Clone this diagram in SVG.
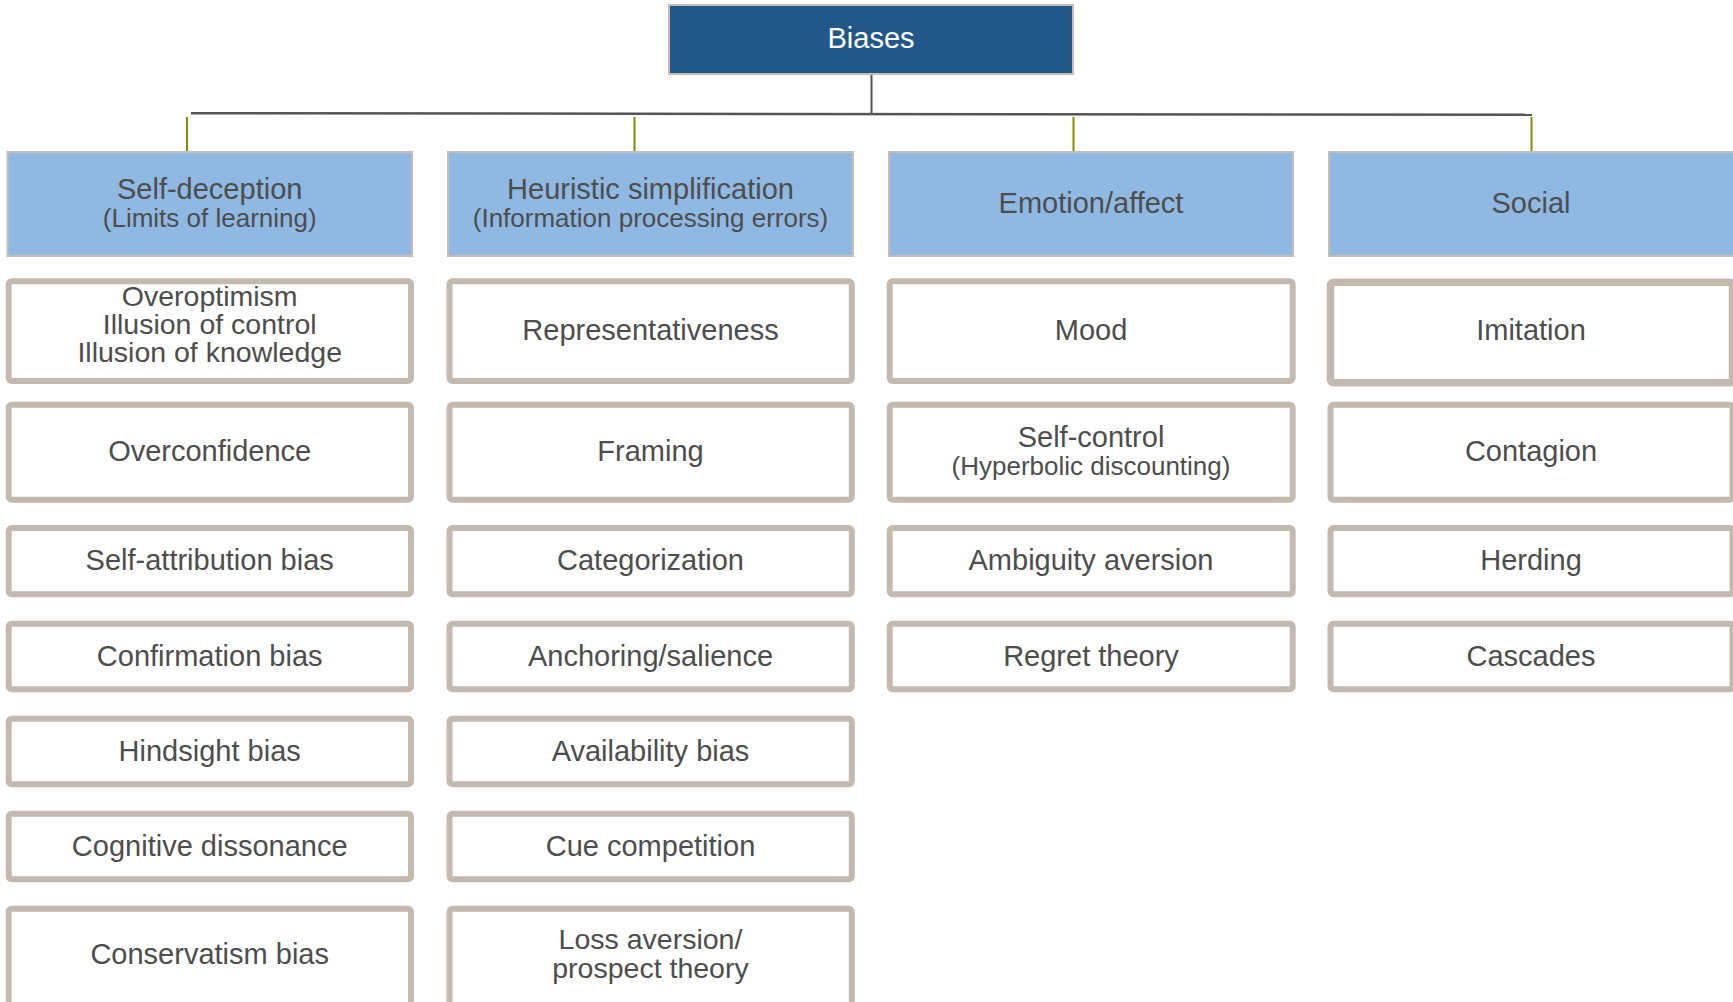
<svg xmlns="http://www.w3.org/2000/svg" width="1733" height="1002" viewBox="0 0 1733 1002">
<style>
text{font-family:"Liberation Sans",Arial,sans-serif;font-size:29px;fill:#4D4D4D;text-anchor:middle}
.sub{font-size:26px}
.tight{font-size:28.5px}
.root rect{fill:#22578A;stroke:#C6BEB6;stroke-width:2}
.root text{fill:#FFFFFF}
.hdr rect{fill:#8FB9E3;stroke:#C6BEB6;stroke-width:2}
.item rect{fill:#FFFFFF;stroke:#C3B9AF;stroke-width:6}
.conn .main{stroke:#555555;fill:none}
.conn .olive{stroke:#8A8A00;stroke-width:2;fill:none}
</style>
<rect width="1733" height="1002" fill="#FFFFFF"/>
<g class="conn" id="connectors">
<line class="main" x1="871.5" y1="74" x2="871.5" y2="114" stroke-width="2"/>
<line class="main" x1="191" y1="113.2" x2="1532" y2="114.8" stroke-width="2.5"/>
<line class="olive" x1="187" y1="117" x2="187" y2="152"/>
<line class="olive" x1="634.5" y1="117" x2="634.5" y2="152"/>
<line class="olive" x1="1073.5" y1="117" x2="1073.5" y2="153"/>
<line class="olive" x1="1531.5" y1="117" x2="1531.5" y2="153"/>
</g>
<g id="biases" class="root"><rect x="669" y="5" width="404" height="69"/><text x="871" y="48">Biases</text></g>
<g id="h-self-deception" class="hdr"><rect x="7.5" y="152" width="404.5" height="104"/><text x="209.7" y="199">Self-deception</text><text class="sub" x="209.7" y="226.7">(Limits of learning)</text></g>
<g id="h-heuristic" class="hdr"><rect x="448" y="152" width="405" height="104"/><text x="650.5" y="199">Heuristic simplification</text><text class="sub" x="650.5" y="226.7">(Information processing errors)</text></g>
<g id="h-emotion" class="hdr"><rect x="889" y="152" width="404" height="104"/><text x="1091" y="213.3">Emotion/affect</text></g>
<g id="h-social" class="hdr"><rect x="1329" y="152" width="410" height="104"/><text x="1531" y="213.3">Social</text></g>

<g id="c1-overoptimism" class="item"><rect x="8.7" y="281.3" width="402.3" height="99.7" rx="3"/><text class="tight" x="209.7" y="306">Overoptimism</text><text class="tight" x="209.7" y="334">Illusion of control</text><text class="tight" x="209.7" y="362">Illusion of knowledge</text></g>
<g id="c1-overconfidence" class="item"><rect x="8.7" y="404.7" width="402.3" height="95" rx="3"/><text x="209.7" y="461">Overconfidence</text></g>
<g id="c1-selfattribution" class="item"><rect x="8.7" y="528" width="402.3" height="66.3" rx="3"/><text x="209.7" y="570">Self-attribution bias</text></g>
<g id="c1-confirmation" class="item"><rect x="8.7" y="623.7" width="402.3" height="65.6" rx="3"/><text x="209.7" y="665.5">Confirmation bias</text></g>
<g id="c1-hindsight" class="item"><rect x="8.7" y="718.7" width="402.3" height="65.6" rx="3"/><text x="209.7" y="760.5">Hindsight bias</text></g>
<g id="c1-cognitive" class="item"><rect x="8.7" y="813.7" width="402.3" height="65.6" rx="3"/><text x="209.7" y="855.5">Cognitive dissonance</text></g>
<g id="c1-conservatism" class="item"><rect x="8.7" y="908.7" width="402.3" height="105" rx="3"/><text x="209.7" y="963.5">Conservatism bias</text></g>

<g id="c2-representativeness" class="item"><rect x="449.5" y="281.3" width="402.3" height="99.7" rx="3"/><text x="650.5" y="340">Representativeness</text></g>
<g id="c2-framing" class="item"><rect x="449.5" y="404.7" width="402.3" height="95" rx="3"/><text x="650.5" y="461">Framing</text></g>
<g id="c2-categorization" class="item"><rect x="449.5" y="528" width="402.3" height="66.3" rx="3"/><text x="650.5" y="570">Categorization</text></g>
<g id="c2-anchoring" class="item"><rect x="449.5" y="623.7" width="402.3" height="65.6" rx="3"/><text x="650.5" y="665.5">Anchoring/salience</text></g>
<g id="c2-availability" class="item"><rect x="449.5" y="718.7" width="402.3" height="65.6" rx="3"/><text x="650.5" y="760.5">Availability bias</text></g>
<g id="c2-cue" class="item"><rect x="449.5" y="813.7" width="402.3" height="65.6" rx="3"/><text x="650.5" y="855.5">Cue competition</text></g>
<g id="c2-loss" class="item"><rect x="449.5" y="908.7" width="402.3" height="105" rx="3"/><text class="tight" x="650.5" y="948.5">Loss aversion/</text><text class="tight" x="650.5" y="977.5">prospect theory</text></g>

<g id="c3-mood" class="item"><rect x="889.7" y="281.3" width="403" height="99.7" rx="3"/><text x="1091" y="340">Mood</text></g>
<g id="c3-selfcontrol" class="item"><rect x="889.7" y="404.7" width="403" height="95" rx="3"/><text x="1091" y="446.7">Self-control</text><text class="sub" x="1091" y="475">(Hyperbolic discounting)</text></g>
<g id="c3-ambiguity" class="item"><rect x="889.7" y="528" width="403" height="66.3" rx="3"/><text x="1091" y="570">Ambiguity aversion</text></g>
<g id="c3-regret" class="item"><rect x="889.7" y="623.7" width="403" height="65.6" rx="3"/><text x="1091" y="665.5">Regret theory</text></g>

<g id="c4-imitation" class="item"><rect x="1330.5" y="282.3" width="402" height="100.5" rx="3" style="stroke-width:7.5"/><text x="1531" y="340">Imitation</text></g>
<g id="c4-contagion" class="item"><rect x="1330.5" y="404.7" width="402" height="95" rx="3"/><text x="1531" y="461">Contagion</text></g>
<g id="c4-herding" class="item"><rect x="1330.5" y="528" width="402" height="66.3" rx="3"/><text x="1531" y="570">Herding</text></g>
<g id="c4-cascades" class="item"><rect x="1330.5" y="623.7" width="402" height="65.6" rx="3"/><text x="1531" y="665.5">Cascades</text></g>
</svg>
